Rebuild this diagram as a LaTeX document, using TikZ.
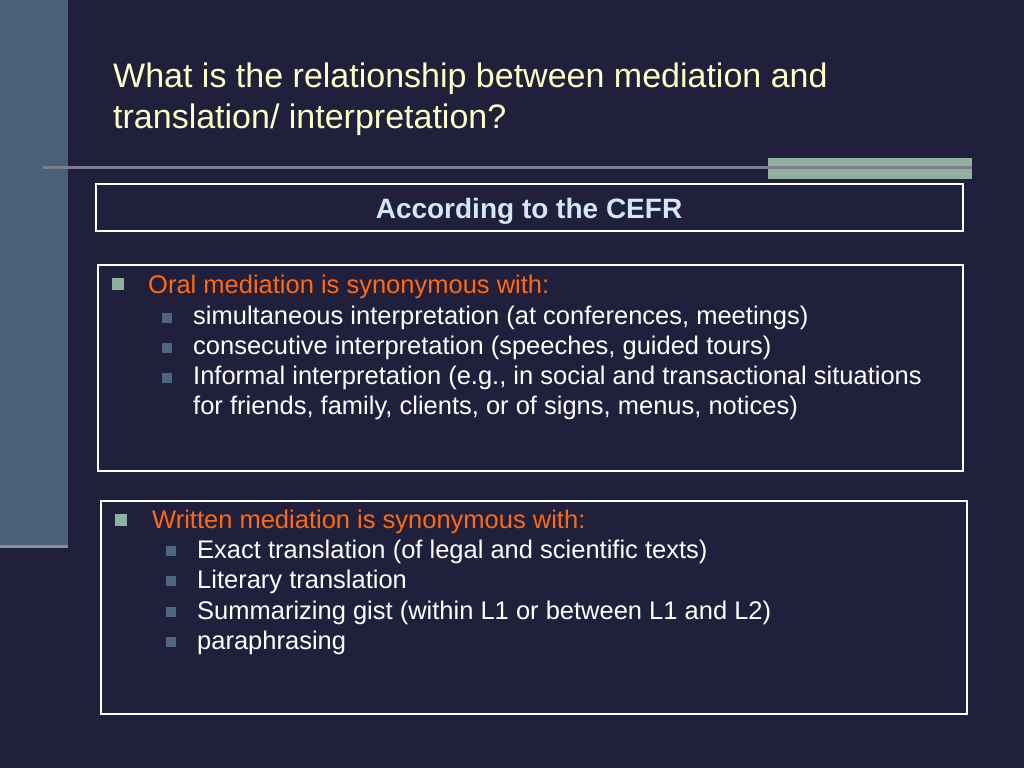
\documentclass[tikz,border=0pt]{standalone}
\usepackage{fontspec}
\setmainfont{Liberation Sans}
\definecolor{bg}{HTML}{20203C}
\definecolor{panel}{HTML}{4A6078}
\definecolor{paneledge}{HTML}{8A8C9C}
\definecolor{rule}{HTML}{7C7C8E}
\definecolor{greenbar}{HTML}{8FB09E}
\definecolor{titlecol}{HTML}{FFFFC4}
\definecolor{headcol}{HTML}{D4E6FA}
\definecolor{orangecol}{HTML}{FF6A10}
\definecolor{bulletone}{HTML}{8FB09E}
\definecolor{bullettwo}{HTML}{4E6680}
\tikzset{
  frame/.style={draw=white, line width=2.5pt},
  titletext/.style={anchor=base west, inner sep=0pt, text=titlecol, font=\fontsize{34}{40}\selectfont},
  headtext/.style={anchor=base, inner sep=0pt, text=headcol, font=\bfseries\fontsize{28}{32}\selectfont},
  levone/.style={anchor=base west, inner sep=0pt, text=orangecol, font=\fontsize{25.5}{30}\selectfont},
  levtwo/.style={anchor=base west, inner sep=0pt, text=white, font=\fontsize{25.5}{30}\selectfont},
  bone/.style={fill=bulletone, minimum size=12pt, inner sep=0pt},
  btwo/.style={fill=bullettwo, minimum size=10pt, inner sep=0pt}
}
\begin{document}
\begin{tikzpicture}[x=1pt,y=-1pt]
\fill[bg] (0,0) rectangle (1024,768);
\useasboundingbox (0,0) rectangle (1024,768);
% left panel
\fill[panel] (0,0) rectangle (68,545);
\fill[paneledge] (0,545) rectangle (68,548);
% green bar and rule
\fill[greenbar] (768,158) rectangle (972,179);
\draw[rule, line width=3pt] (43,167) -- (972,167);
% title
\node[titletext] (t1) at (113,87) {What is the relationship between mediation and};
\node[titletext] (t2) at (113,128) {translation/ interpretation?};
% header box
\draw[frame] (96,184) rectangle (963,231);
\node[headtext] (head) at (529,218) {According to the CEFR};
% box oral
\draw[frame] (98,265) rectangle (963,471);
\node[bone] (b1) at (118,284) {};
\node[levone] (o0) at (148,293) {Oral mediation is synonymous with:};
\node[btwo] (b2) at (167,318) {};
\node[levtwo] (o1) at (193,324) {simultaneous interpretation (at conferences, meetings)};
\node[btwo] (b3) at (167,348) {};
\node[levtwo] (o2) at (193,354) {consecutive interpretation (speeches, guided tours)};
\node[btwo] (b4) at (167,378) {};
\node[levtwo] (o3) at (193,384) {Informal interpretation (e.g., in social and transactional situations};
\node[levtwo] (o4) at (193,414) {for friends, family, clients, or of signs, menus, notices)};
% box written
\draw[frame] (101,501) rectangle (967,714);
\node[bone] (c1) at (121,520) {};
\node[levone] (w0) at (152,528) {Written mediation is synonymous with:};
\node[btwo] (c2) at (171,551) {};
\node[levtwo] (w1) at (197,558) {Exact translation (of legal and scientific texts)};
\node[btwo] (c3) at (171,581) {};
\node[levtwo] (w2) at (197,588) {Literary translation};
\node[btwo] (c4) at (171,612) {};
\node[levtwo] (w3) at (197,619) {Summarizing gist (within L1 or between L1 and L2)};
\node[btwo] (c5) at (171,642) {};
\node[levtwo] (w4) at (197,649) {paraphrasing};
\end{tikzpicture}
\end{document}
